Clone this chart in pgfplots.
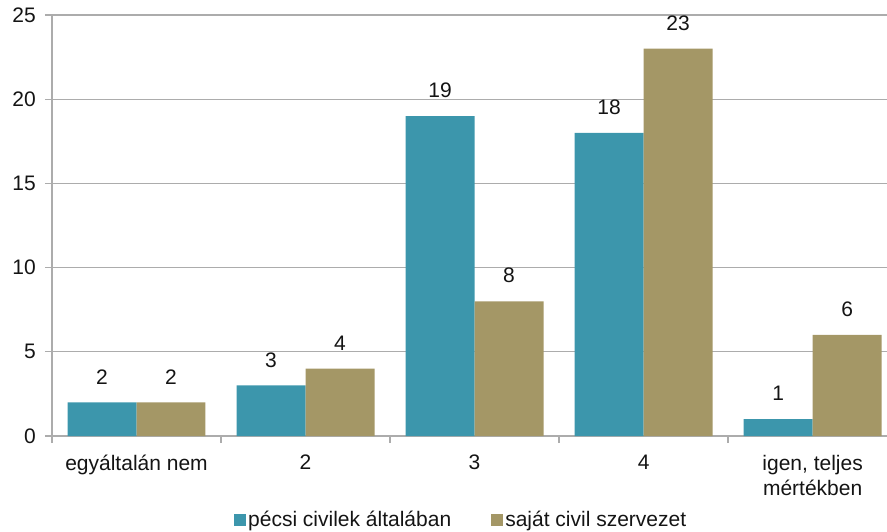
\documentclass[border=0pt]{standalone}
\usepackage{pgfplots}
\pgfplotsset{compat=1.18}
\usepackage{fontspec}
\setmainfont{Liberation Sans}
\definecolor{tealb}{RGB}{60,150,172}
\definecolor{khakib}{RGB}{164,151,102}
\definecolor{gridc}{RGB}{172,172,172}
\definecolor{txt}{RGB}{20,20,20}
\begin{document}
\fontsize{21}{25}\selectfont
\begin{tikzpicture}
\useasboundingbox (-52pt,-95pt) rectangle (835pt,436pt);
\begin{axis}[
  at={(0,0)}, anchor=south west,
  scale only axis, width=835pt, height=421pt,
  xmin=-0.5, xmax=4.44, ymin=0, ymax=25,
  ybar=0pt, bar width=0.408,
  /pgf/number format/assume math mode=true,
  axis x line*=bottom, axis y line*=left,
  axis line style={gridc, line width=1.3pt},
  ytick={0,5,...,25},
  ymajorgrids, grid style={gridc, line width=1.3pt},
  xtick={0,...,4},
  xticklabels={egyáltalán nem,2,3,4,{igen, teljes\\mértékben}},
  xticklabel style={align=center, text=txt, font=\fontsize{21}{25}\selectfont},
  yticklabel style={text=txt, font=\fontsize{21}{25}\selectfont},
  minor xtick={-0.5,0.5,...,4.5},
  major x tick style={draw=none},
  minor x tick style={gridc, line width=1.3pt},
  y tick style={gridc, line width=1.3pt},
  tick align=outside,
  major tick length=7pt, minor tick length=7pt,
  xticklabel shift=5pt, yticklabel shift=2pt,
  nodes near coords,
  every node near coord/.append style={font=\fontsize{21}{25}\selectfont, text=txt, anchor=south, yshift=11pt},
  legend style={at={(0.49,-0.2)}, anchor=center, draw=none, fill=none,
    legend columns=2, font=\fontsize{21}{25}\selectfont, text=txt,
    /tikz/every even column/.append style={column sep=38pt}},
  legend cell align=left,
]
\addplot[fill=tealb, draw=none, legend image code/.code={\fill[tealb] (0pt,-6pt) rectangle (12pt,6pt);}]
  coordinates {(0,2) (1,3) (2,19) (3,18) (4,1)};
\addplot[fill=khakib, draw=none, legend image code/.code={\fill[khakib] (0pt,-6pt) rectangle (12pt,6pt);}]
  coordinates {(0,2) (1,4) (2,8) (3,23) (4,6)};
\legend{pécsi civilek általában, saját civil szervezet}
\end{axis}
\end{tikzpicture}
\end{document}
